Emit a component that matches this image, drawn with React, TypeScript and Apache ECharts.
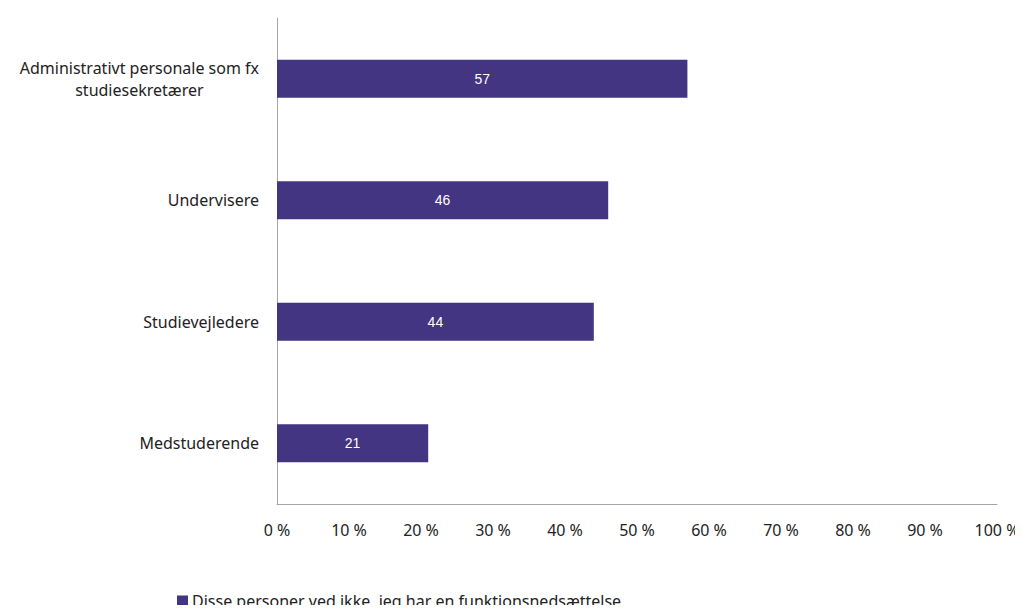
import React, { useEffect, useRef } from "react";
import * as echarts from "echarts";

const categories = [
  "Medstuderende",
  "Studievejledere",
  "Undervisere",
  "Administrativt personale som fx\nstudiesekretærer",
];
const values = [21, 44, 46, 57];
const seriesName = "Disse personer ved ikke, jeg har en funktionsnedsættelse";
const xTicks = [0, 10, 20, 30, 40, 50, 60, 70, 80, 90, 100];

const FONT = "Noto Sans";

export default function App() {
  const ref = useRef<HTMLDivElement>(null);
  useEffect(() => {
    if (!ref.current) return;
    const chart = echarts.init(ref.current, null, { renderer: "svg" });
    chart.setOption({
      animation: false,
      grid: { left: 277, right: 26, top: 18, bottom: 109, containLabel: false },
      legend: {
        left: 177,
        top: 592,
        padding: 0,
        itemWidth: 11,
        itemHeight: 11,
        itemGap: 4,
        icon: "rect",
        textStyle: { fontFamily: FONT, fontSize: 16, lineHeight: 18, color: "#222", padding: [0, 0, 0, -1] },
        data: [seriesName],
      },
      xAxis: {
        type: "value",
        min: xTicks[0],
        max: xTicks[xTicks.length - 1],
        interval: 10,
        axisLine: { show: true, lineStyle: { color: "#a6a6a6", width: 1 } },
        axisTick: { show: false },
        splitLine: { show: false },
        axisLabel: {
          margin: 18,
          formatter: (v: number) => `${v} %`,
          fontFamily: FONT,
          fontSize: 16,
          color: "#222",
        },
      },
      yAxis: {
        type: "category",
        data: categories,
        axisLine: { show: true, lineStyle: { color: "#a6a6a6", width: 1 } },
        axisTick: { show: false },
        axisLabel: {
          margin: 18,
          fontFamily: FONT,
          fontSize: 16,
          color: "#222",
          lineHeight: 22,
          formatter: (v: string) =>
            v
              .split("\n")
              .map((s) => `{c|${s}}`)
              .join("\n"),
          rich: {
            c: { align: "center", fontFamily: FONT, fontSize: 16, color: "#222", lineHeight: 22 },
          },
        },
      },
      series: [
        {
          name: seriesName,
          type: "bar",
          data: values,
          barWidth: 38,
          itemStyle: { color: "#433581" },
          label: {
            show: true,
            position: "inside",
            color: "#fff",
            fontFamily: "Liberation Sans",
            fontSize: 14,
          },
        },
      ],
    });
    return () => chart.dispose();
  }, []);
  return <div ref={ref} style={{ width: 1023, height: 613, margin: -8 }} />;
}
